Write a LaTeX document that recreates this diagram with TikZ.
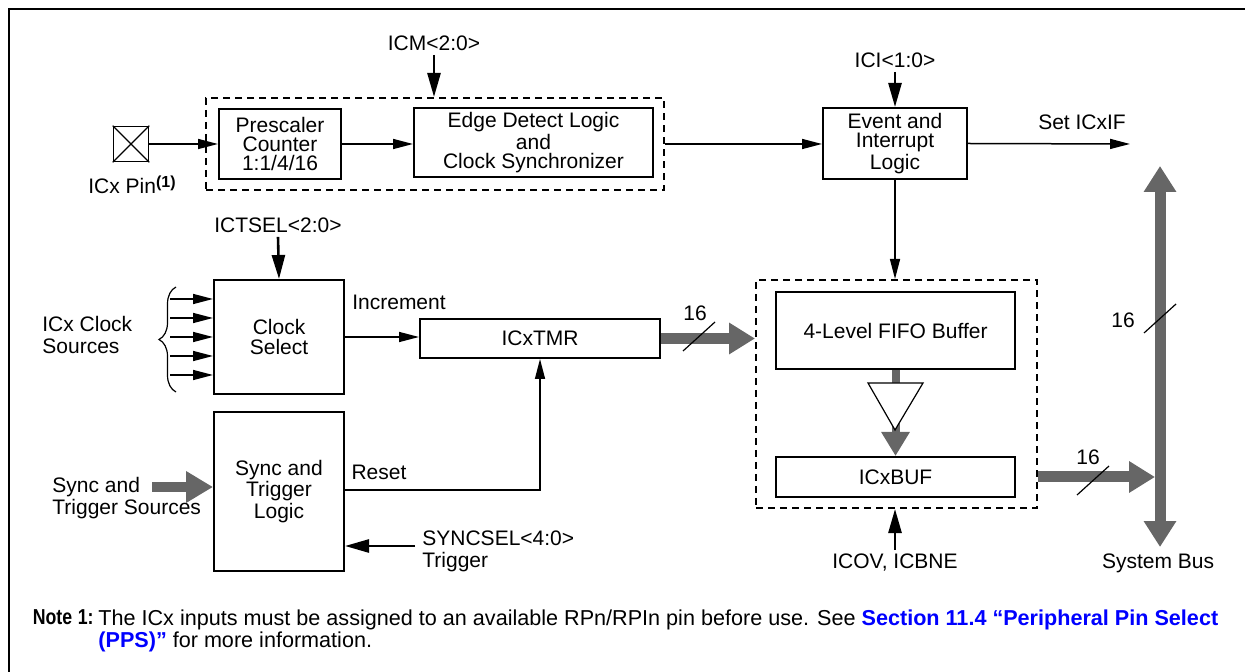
\documentclass[tikz,border=0pt]{standalone}
\usepackage{fontspec}
\setmainfont{Liberation Sans}
\usetikzlibrary{arrows.meta,decorations.pathreplacing}
\definecolor{busgray}{RGB}{102,102,102}
\definecolor{linkblue}{RGB}{0,0,255}
\tikzset{
  blk/.style={draw,line width=1pt,inner sep=0pt,align=center,font=\fontsize{10.5}{9.7}\selectfont},
  grp/.style={draw,line width=1pt,dash pattern=on 3.5pt off 2.5pt,inner sep=0pt},
  lbl/.style={inner sep=0pt,align=center,font=\fontsize{10.5}{11}\selectfont},
  sig/.style={line width=0.75pt,-{Triangle[length=10pt,width=5pt]}},
  ctl/.style={line width=1.3pt,-{Triangle[length=12pt,width=6.5pt]}},
  bus/.style={busgray,line width=5.5pt,-{Triangle[length=13pt,width=15pt]}},
  buswidth/.style={line width=0.6pt},
}
\begin{document}
\begin{tikzpicture}[x=0.5pt,y=-0.5pt]
  \useasboundingbox (0,0) rectangle (1245,672);
  \draw[line width=1.2pt] (9,672) -- (9,9) -- (1245,9);

  % capture path
  \node[grp,minimum width=229pt,minimum height=46pt] (grpA) at (435,144) {};
  \node[draw,line width=0.8pt,minimum size=17.5pt,inner sep=0pt] (pin) at (131,144) {};
  \draw[line width=0.6pt] (pin.north west) -- (pin.south east) (pin.north east) -- (pin.south west);
  \node[lbl] (pinlbl) at (132,185) {ICx Pin\raisebox{0.55ex}{\fontsize{8}{8}\selectfont\bfseries(1)}};
  \node[blk,minimum width=61pt,minimum height=35pt] (presc) at (280,144) {Prescaler\\Counter\\1:1/4/16};
  \node[blk,minimum width=119.5pt,minimum height=34.5pt] (edge) at (533.5,142.5) {Edge Detect Logic\\and\\Clock Synchronizer};
  \node[blk,minimum width=72pt,minimum height=35.5pt] (evt) at (895,143.5) {Event and\\Interrupt\\Logic};
  \node[lbl] (icm) at (434,43) {ICM<2:0>};
  \node[lbl] (ici) at (895,60) {ICI<1:0>};
  \node[lbl] (setif) at (1082,122) {Set ICxIF};
  \coordinate (IFout) at (1130,144);
  \draw[sig] (pin.east) -- (presc.west);
  \draw[sig] (presc.east) -- (edge.west |- presc.east);
  \draw[ctl] ([yshift=-2pt]icm.south) -- (icm.south |- grpA.north);
  \draw[sig] (grpA.east) -- (evt.west |- grpA.east);
  \draw[ctl] ([yshift=-2pt]ici.south) -- (evt.north);
  \draw[sig] (evt.east) -- (IFout);

  % capture buffer
  \node[grp,minimum width=140.5pt,minimum height=114pt] (grpB) at (896.5,394) {};
  \node[blk,minimum width=119.5pt,minimum height=38.5pt] (fifo) at (895.5,330.5) {4-Level FIFO Buffer};
  \node[blk,minimum width=119.5pt,minimum height=20pt] (icxbuf) at (895.5,477) {ICxBUF};
  \draw[busgray,line width=4pt,-{Triangle[length=12pt,width=13.5pt]}] (fifo.south) -- (icxbuf.north);
  \draw[fill=white,line width=0.6pt] (868,383) -- (923,383) -- (895,430) -- cycle;
  \node[lbl] (icov) at (895,563) {ICOV, ICBNE};
  \draw[sig] (evt.south) -- (evt.south |- grpB.north);
  \draw[ctl] ([yshift=2pt]icov.north) -- (icov.north |- grpB.south);

  % system bus
  \coordinate (busT) at (1160,166);
  \coordinate (busB) at (1160,547);
  \coordinate (busIn) at (1155,477);
  \draw[busgray,line width=5.5pt,{Triangle[length=13pt,width=15.5pt]}-{Triangle[length=13pt,width=15.5pt]}] (busT) -- (busB);
  \draw[bus] (grpB.east |- icxbuf) -- (busIn);
  \node[lbl] (sysbus) at (1158,563) {System Bus};
  \node[lbl] (w16c) at (1088,457) {16};
  \draw[buswidth] (1077,495) -- (1109,466);
  \node[lbl] (w16d) at (1123,320) {16};
  \draw[buswidth] (1144,333) -- (1176,304);

  % timer and clock select
  \node[blk,minimum width=120pt,minimum height=19.5pt] (tmr) at (540,338.5) {ICxTMR};
  \node[blk,minimum width=65pt,minimum height=57pt] (clksel) at (279,337) {Clock\\Select};
  \node[lbl] (ictsel) at (278,225) {ICTSEL<2:0>};
  \node[lbl,anchor=west,align=left] (clksrc) at (42,335) {ICx Clock\\Sources};
  \node[lbl] (incr) at (399,302) {Increment};
  \draw[ctl] ([yshift=-2pt]ictsel.south) -- (clksel.north);
  \foreach \yy in {299,318,337,356,375}
    \draw[sig] (170,\yy) -- (clksel.west |- 170,\yy);
  \draw[decorate,decoration={brace,amplitude=8.5pt},line width=0.6pt] (176,392) -- (176,287);
  \draw[sig] (clksel.east) -- (tmr.west |- clksel.east);
  \draw[bus] (tmr.east) -- (tmr.east -| grpB.west);
  \node[lbl] (w16a) at (695,313) {16};
  \draw[buswidth] (683,351) -- (715,322);

  % sync and trigger
  \node[blk,minimum width=65pt,minimum height=79.5pt] (sync) at (279,491.5) {Sync and\\Trigger\\Logic};
  \node[lbl,anchor=west,align=left] (syncsrc) at (52,498) {Sync and\\Trigger Sources};
  \node[lbl] (reset) at (379,472) {Reset};
  \node[lbl,anchor=west,align=left] (syncsel) at (422,551) {SYNCSEL<4:0>\\Trigger};
  \coordinate (SRCin) at (152,487);
  \coordinate (SELin) at (415,546);
  \draw[busgray,line width=5pt,-{Triangle[length=13.5pt,width=15pt]}] (SRCin) -- (SRCin -| sync.west);
  \draw[sig] (sync.east |- 0,490) -| (tmr.south);
  \draw[ctl] (SELin) -- (SELin -| sync.east);

  % note
  \node[anchor=north east,inner sep=0pt,font=\fontsize{10.8}{11}\selectfont\bfseries] (notelbl) at (94,609) {\scalebox{0.82}[1]{Note\hspace{3.5pt}1:}};
  \node[anchor=north west,inner sep=0pt,align=left,font=\fontsize{10.8}{11}\selectfont] (note) at (98,609)
    {The ICx inputs must be assigned to an available RPn/RPIn pin before use. See {\bfseries\color{linkblue}Section 11.4 “Peripheral Pin Select}\\
     {\bfseries\color{linkblue}(PPS)”} for more information.};
\end{tikzpicture}
\end{document}
